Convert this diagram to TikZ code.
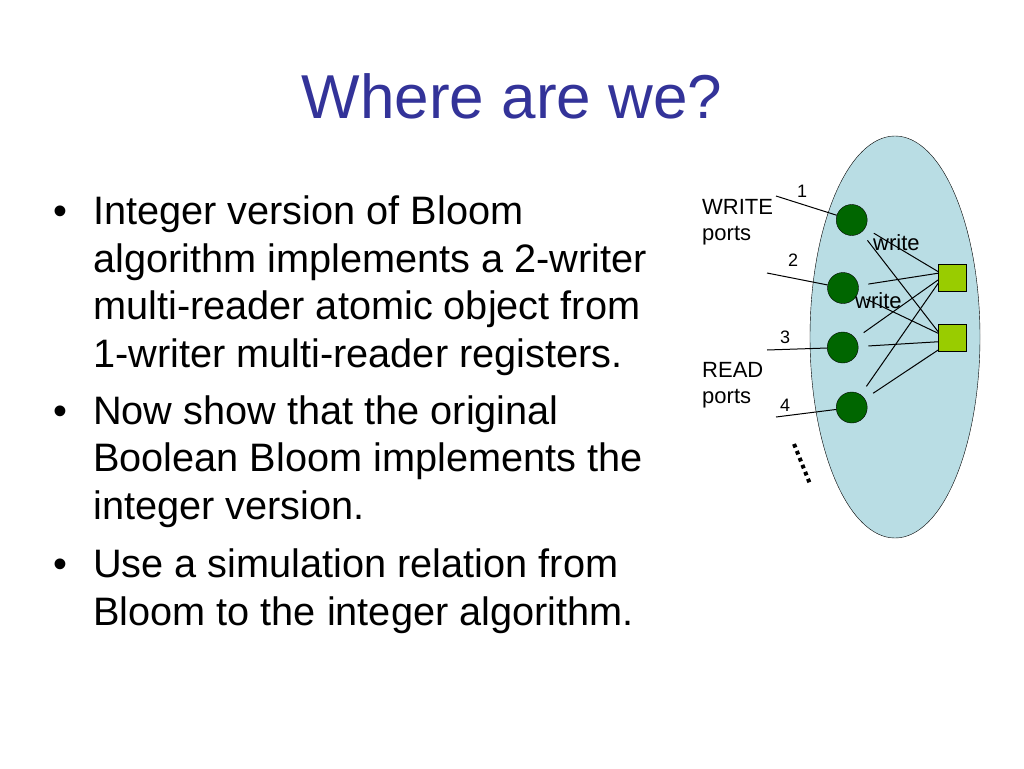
\documentclass[tikz,border=0pt]{standalone}
\usepackage{fontspec}
\setmainfont{Liberation Sans}

\definecolor{titleblue}{RGB}{51,51,153}
\definecolor{cellblue}{RGB}{185,221,228}
\definecolor{portgreen}{RGB}{0,102,0}
\definecolor{reggreen}{RGB}{153,204,0}

\begin{document}
\begin{tikzpicture}[
  x=1pt, y=-1pt,
  port/.style={circle, draw, fill=portgreen, minimum size=31pt, inner sep=0pt},
  reg/.style={rectangle, draw, fill=reggreen, minimum size=27.5pt, inner sep=0pt},
  wire/.style={line width=1pt, shorten <=10pt},
  lbl/.style={font=\fontsize{22}{25.5}\selectfont, inner sep=0pt, align=left, anchor=base west},
  num/.style={font=\fontsize{18}{20}\selectfont, inner sep=0pt},
  txt/.style={font=\fontsize{39.7}{47.5}\selectfont, inner sep=0pt, align=left, anchor=base west},
  dot/.style={font=\fontsize{39.7}{47.5}\selectfont, inner sep=0pt, anchor=base}
]

\fill [white] (0,0) rectangle (1024,768);
\useasboundingbox (0,0) rectangle (1024,768);

\node [font=\fontsize{62}{70}\selectfont, text=titleblue, anchor=base] (title) at (512,118) {Where are we?};

% bullets (anchored at the baseline of their last line)
\node [dot] (d1) at (60,224) {\textbullet};
\node [txt] (b1) at (93,367) {Integer version of Bloom\\algorithm implements a 2-writer\\multi-reader atomic object from\\1-writer multi-reader registers.};
\node [dot] (d2) at (60,424) {\textbullet};
\node [txt] (b2) at (93,519) {Now show that the original\\Boolean Bloom implements the\\integer version.};
\node [dot] (d3) at (60,577) {\textbullet};
\node [txt] (b3) at (93,625) {Use a simulation relation from\\Bloom to the integer algorithm.};

% the object
\draw [fill=cellblue] (895,337) ellipse [x radius=85, y radius=201];

\coordinate (w1) at (776,196);
\coordinate (w2) at (767,273);
\coordinate (w3) at (767,350);
\coordinate (w4) at (776,417);

\node [port] (p1) at (851.7,220) {};
\node [port] (p2) at (843,288) {};
\node [port] (p3) at (842.7,347.5) {};
\node [port] (p4) at (851.7,407.5) {};

\node [reg] (r1) at (952,277.5) {};
\node [reg] (r2) at (952,337.5) {};

\draw [line width=1pt] (w1) -- (p1);
\draw [line width=1pt] (w2) -- (p2);
\draw [line width=1pt] (w3) -- (p3);
\draw [line width=1pt] (w4) -- (p4);

\draw [wire] (p1) -- (r1.157);
\draw [wire] (p1) -- (r2.157);
\draw [wire] (p2) -- (r1.163);
\draw [wire] (p2) -- (r2.163);
\draw [wire] (p3) -- (r1.190);
\draw [wire] (p3) -- (r2.197);
\draw [wire] (p4) -- (r1.203);
\draw [wire] (p4) -- (r2.222);

\node [num] (n1) at (802,191) {1};
\node [num] (n2) at (793,260) {2};
\node [num] (n3) at (785,337.5) {3};
\node [num] (n4) at (785,405) {4};

\node [lbl] (wports) at (702,240) {WRITE\\ports};
\node [lbl] (rports) at (702,403) {READ\\ports};
\node [lbl] (wlbl1) at (873,250) {write};
\node [lbl] (wlbl2) at (855,308) {write};

\coordinate (more1) at (794,444);
\coordinate (more2) at (810.7,485.7);
\draw [line width=4pt, dash pattern=on 3.75pt off 3.75pt] (more1) -- (more2);

\end{tikzpicture}
\end{document}
